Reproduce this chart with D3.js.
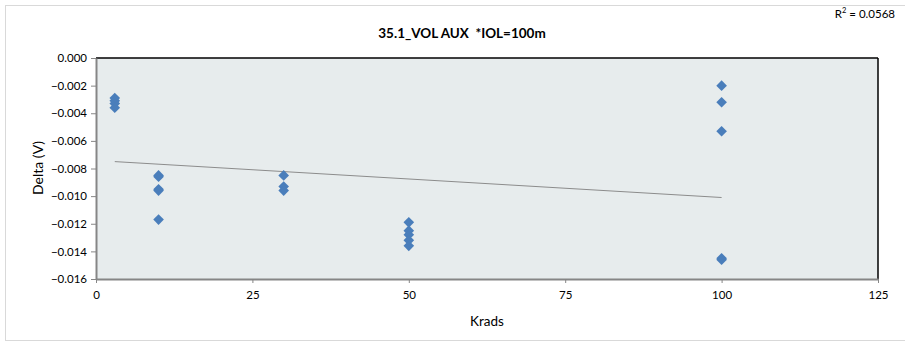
<!DOCTYPE html>
<html><head><meta charset="utf-8">
<script src="https://cdn.jsdelivr.net/npm/d3@7"></script>
<style>body{margin:0;background:#fff;} svg{display:block;font-family:Lato,"Open Sans",sans-serif;}</style>
</head><body>
<script>
const krads = [3,3,3,3, 10,10,10,10,10, 30,30,30, 50,50,50,50,50, 100,100,100,100,100];
const delta = [-0.0029,-0.0031,-0.0033,-0.0036,
  -0.0085,-0.0086,-0.0095,-0.0096,-0.0117,
  -0.0085,-0.0093,-0.0096,
  -0.0119,-0.0125,-0.0128,-0.0132,-0.0136,
  -0.0020,-0.0032,-0.0053,-0.0145,-0.0146];
const trendX = [3, 100];
const trendY = [-0.0075, -0.0101];
const xTicks = [0,25,50,75,100,125];
const yTicks = [0,-0.002,-0.004,-0.006,-0.008,-0.010,-0.012,-0.014,-0.016];
const title = "35.1_VOL AUX  *IOL=100m";
const r2 = "0.0568";

const W=905,H=344;
const m={l:96,r:878,t:58,b:279};
const svg=d3.select("body").append("svg").attr("width",W).attr("height",H);
svg.append("rect").attr("x",5.5).attr("y",5.5).attr("width",W+10).attr("height",335).attr("fill","#fff").attr("stroke","#d9d9d9");
const x=d3.scaleLinear().domain([0,125]).range([m.l,m.r]);
const y=d3.scaleLinear().domain([-0.016,0]).range([m.b,m.t]);
svg.append("rect").attr("x",m.l).attr("y",m.t).attr("width",m.r-m.l).attr("height",m.b-m.t).attr("fill","#e7eced");
svg.append("line").attr("x1",m.l).attr("x2",m.r).attr("y1",m.t).attr("y2",m.t).attr("stroke","#000").attr("stroke-width",1.5);
svg.append("line").attr("x1",m.r).attr("x2",m.r).attr("y1",m.t).attr("y2",m.b).attr("stroke","#000").attr("stroke-width",1.5);

const ya=svg.append("g").attr("transform",`translate(${m.l},0)`).call(d3.axisLeft(y).tickValues(yTicks).tickFormat(d3.format(".3f")).tickSize(5).tickSizeOuter(0));
const xa=svg.append("g").attr("transform",`translate(0,${m.b})`).call(d3.axisBottom(x).tickValues(xTicks).tickFormat(d3.format("d")).tickSize(4).tickSizeOuter(0));
[ya,xa].forEach(g=>{g.select(".domain").attr("stroke","#868686").attr("stroke-width",2);
  g.selectAll(".tick line").attr("stroke","#868686");
  g.selectAll("text").attr("fill","#000").style("font-size","11.5px").style("font-family","Lato,sans-serif");});
ya.selectAll("text").attr("x",-9);
xa.selectAll("text").attr("y",12);

svg.append("line").attr("x1",x(trendX[0])).attr("x2",x(trendX[1])).attr("y1",y(trendY[0])).attr("y2",y(trendY[1])).attr("stroke","#8c8c8c").attr("stroke-width",1);

const sym=d3.symbol().type(d3.symbolDiamond2).size(72);
svg.append("g").selectAll("path").data(krads.map((k,i)=>[k,delta[i]])).join("path")
  .attr("d",sym).attr("transform",d=>`translate(${x(d[0])},${y(d[1])})`).attr("fill","#4a7ebb");

svg.append("text").attr("x",462).attr("y",38).attr("text-anchor","middle").style("font-size","13.5px").style("font-weight","bold").style("white-space","pre").text(title);
const rt=svg.append("text").attr("x",895).attr("y",18).attr("text-anchor","end").style("font-size","11.5px");
rt.append("tspan").text("R");rt.append("tspan").attr("dy",-5).style("font-size","7.5px").text("2");rt.append("tspan").attr("dy",5).text(" = "+r2);
svg.append("text").attr("x",487).attr("y",326).attr("text-anchor","middle").style("font-size","13.5px").text("Krads");
svg.append("text").attr("transform","translate(43,168) rotate(-90)").attr("text-anchor","middle").style("font-size","14px").text("Delta (V)");
</script>
</body></html>
